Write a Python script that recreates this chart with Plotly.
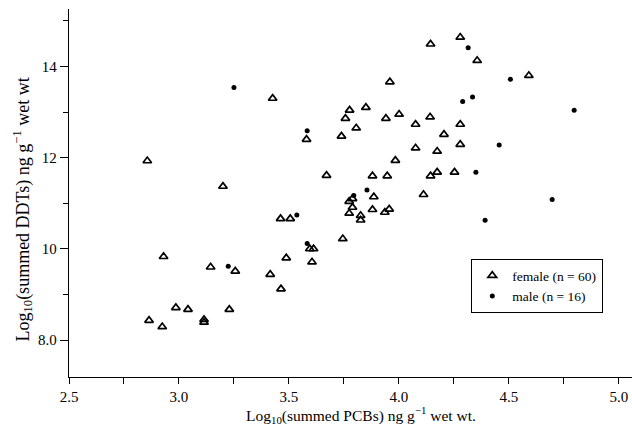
import plotly.graph_objects as go

# Female (open triangles)
female_pcb = [2.856, 3.426, 3.580, 4.144, 4.279, 4.356, 3.959, 3.776, 3.850, 3.757,
              3.806, 3.941, 4.001, 4.076, 4.142, 4.279, 3.739, 4.205, 4.279, 4.076,
              4.174, 3.984, 3.671, 3.880, 3.947, 4.144, 4.174, 4.253, 4.591, 3.200,
              3.462, 3.506, 3.595, 3.612, 3.488, 2.930, 3.144, 3.256, 3.415, 3.464,
              2.986, 3.041, 3.229, 2.864, 2.924, 3.114, 3.114, 3.886, 3.789, 3.774,
              3.789, 3.774, 3.826, 3.826, 3.880, 3.936, 3.956, 4.112, 3.745, 3.605]
female_ddt = [11.93, 13.30, 12.40, 14.49, 14.64, 14.13, 13.66, 13.04, 13.10, 12.86,
              12.65, 12.86, 12.95, 12.73, 12.89, 12.73, 12.47, 12.51, 12.29, 12.21,
              12.14, 11.94, 11.61, 11.60, 11.60, 11.60, 11.68, 11.68, 13.80, 11.37,
              10.66, 10.66, 10.00, 10.00, 9.80, 9.83, 9.60, 9.51, 9.44, 9.12,
              8.71, 8.67, 8.67, 8.43, 8.29, 8.45, 8.39, 11.14, 11.10, 11.04,
              10.91, 10.78, 10.73, 10.63, 10.86, 10.80, 10.87, 11.19, 10.22, 9.71]

# Male (filled dots)
male_pcb = [3.250, 3.583, 4.315, 4.290, 4.335, 4.350, 4.507, 4.797, 4.456, 3.536,
            3.583, 3.224, 3.855, 3.795, 4.697, 4.392]
male_ddt = [13.54, 12.59, 14.41, 13.23, 13.33, 11.68, 13.72, 13.04, 12.28, 10.74,
            10.12, 9.62, 11.29, 11.17, 11.08, 10.63]

x_tickvals = [2.5, 3.0, 3.5, 4.0, 4.5, 5.0]
x_ticktext = ["2.5", "3.0", "3.5", "4.0", "4.5", "5.0"]
y_tickvals = [8, 10, 12, 14]
y_ticktext = ["8.0", "10", "12", "14"]

font_family = "Liberation Serif"

fig = go.Figure()
fig.add_trace(go.Scatter(
    x=female_pcb, y=female_ddt, mode="markers", name="female (n = 60)",
    marker=dict(symbol="triangle-up-open", size=7.5, color="black",
                line=dict(width=1.7, color="black")),
))
fig.add_trace(go.Scatter(
    x=male_pcb, y=male_ddt, mode="markers", name="male (n = 16)",
    marker=dict(symbol="circle", size=5, color="black"),
))

axis_common = dict(
    showline=True, linecolor="black", linewidth=1.3, showgrid=False,
    zeroline=False, ticks="outside", tickcolor="black", tickwidth=1.3,
    tickfont=dict(family=font_family, size=15, color="black"),
    mirror=False, automargin=False,
)

fig.update_xaxes(range=[2.5, 5.06], tickmode="array", tickvals=x_tickvals,
                 ticktext=x_ticktext, ticklen=6,
                 minor=dict(dtick=0.25, tick0=2.5, ticks="outside", ticklen=6,
                            tickcolor="black", tickwidth=1.3),
                 **axis_common)
fig.update_yaxes(range=[7.19, 15.26], tickmode="array", tickvals=y_tickvals,
                 ticktext=y_ticktext, ticklen=8,
                 minor=dict(dtick=1, tick0=0, ticks="outside", ticklen=5,
                            tickcolor="black", tickwidth=1.3),
                 **axis_common)

fig.update_layout(
    width=632, height=431,
    margin=dict(l=69, r=0, t=9, b=54),
    paper_bgcolor="white", plot_bgcolor="white",
    font=dict(family=font_family, color="black"),
    showlegend=True,
    legend=dict(x=0.714, y=0.321, xanchor="left", yanchor="top",
                bordercolor="black", borderwidth=1.3, bgcolor="white",
                tracegroupgap=0,
                font=dict(family=font_family, size=13.5, color="black")),
    annotations=[
        dict(text="Log<sub>10</sub>(summed PCBs) ng g<sup>−1</sup> wet wt.",
             xref="paper", yref="paper", x=0.519, y=-0.104,
             xanchor="center", yanchor="middle", showarrow=False,
             font=dict(family=font_family, size=15.5, color="black")),
        dict(text="Log<sub>10</sub>(summed DDTs) ng g<sup>−1</sup> wet wt",
             xref="paper", yref="paper", x=-0.083, y=0.456,
             xanchor="center", yanchor="middle", showarrow=False, textangle=-90,
             font=dict(family=font_family, size=18, color="black")),
    ],
)

fig.write_html("out.html", config={"displayModeBar": False},
               post_script="document.body.style.margin='0';document.body.style.overflow='hidden';")
